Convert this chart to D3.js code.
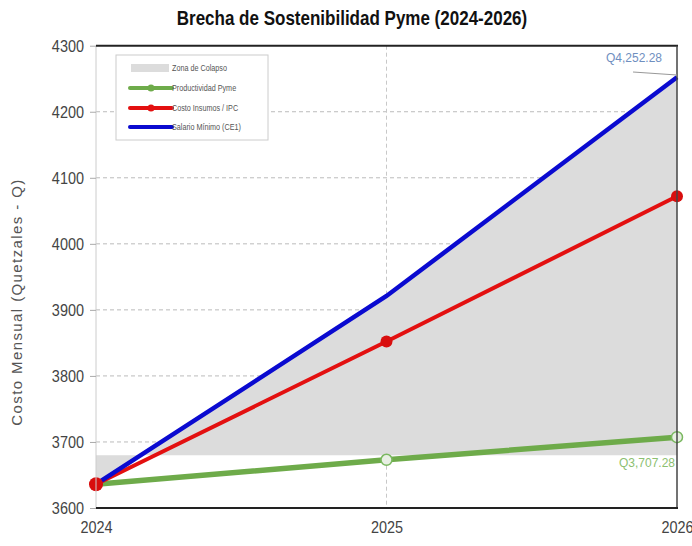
<!DOCTYPE html>
<html><head><meta charset="utf-8">
<script src="https://cdn.jsdelivr.net/npm/d3@7"></script>
<style>body{margin:0;background:#fff;}svg{display:block;}</style>
</head><body>
<svg id="c" width="692" height="546"></svg>
<script>
const years = [2024, 2025, 2026];
const salarioMinimo = [3636, 3921, 4252.28];
const costoInsumos = [3636, 3852, 4072];
const productividad = [3636, 3673, 3707.28];
const zonaColapsoBase = 3680;
const yTicks = [3600, 3700, 3800, 3900, 4000, 4100, 4200, 4300];
const legendLabels = ["Zona de Colapso", "Productividad Pyme", "Costo Insumos / IPC", "Salario Mínimo (CE1)"];
const titleText = "Brecha de Sostenibilidad Pyme (2024-2026)";
const yLabel = "Costo Mensual (Quetzales - Q)";

const svg = d3.select("#c");
const L = 96, R = 677, T = 45.7, B = 508;
const x = d3.scaleLinear().domain([2024, 2026]).range([L, R]);
const y = d3.scaleLinear().domain([3600, 4300]).range([B, T]);
const sans = "'Liberation Sans', Arial, sans-serif";

// title (condensed look via horizontal scale)
svg.append("text").attr("transform", "translate(352,25) scale(0.81,1)").attr("text-anchor", "middle")
  .attr("font-family", sans).attr("font-weight", "bold").attr("font-size", 21)
  .attr("fill", "#111").text(titleText);

// grid
svg.append("g").selectAll("line").data(yTicks.filter(d => d > 3600 && d < 4300)).join("line")
  .attr("x1", L).attr("x2", R).attr("y1", d => y(d)).attr("y2", d => y(d))
  .attr("stroke", "#bbb").attr("stroke-dasharray", "4,3").attr("stroke-width", 1);
svg.append("line").attr("x1", x(2025)).attr("x2", x(2025)).attr("y1", T).attr("y2", B)
  .attr("stroke", "#c8c8c8").attr("stroke-dasharray", "4,3");

// area
const area = d3.area().x((d, i) => x(years[i])).y0(y(zonaColapsoBase)).y1(d => y(d));
svg.append("path").datum(salarioMinimo).attr("d", area).attr("fill", "#dcdcdc");

// lines
const line = d3.line().x((d, i) => x(years[i])).y(d => y(d));
svg.append("path").datum(productividad).attr("d", line).attr("fill", "none")
  .attr("stroke", "#6eab4a").attr("stroke-width", 5.5);
svg.append("path").datum(costoInsumos).attr("d", line).attr("fill", "none")
  .attr("stroke", "#e31010").attr("stroke-width", 4);
svg.append("path").datum(salarioMinimo).attr("d", line).attr("fill", "none")
  .attr("stroke", "#0a0ad0").attr("stroke-width", 4.5);

// markers
svg.append("g").selectAll("circle").data(productividad.slice(1)).join("circle")
  .attr("cx", (d, i) => x(years[i + 1])).attr("cy", d => y(d)).attr("r", 5.5)
  .attr("fill", "#e8efe4").attr("stroke", "#7ab860").attr("stroke-width", 1.5);
svg.append("g").selectAll("circle").data(costoInsumos).join("circle")
  .attr("cx", (d, i) => x(years[i])).attr("cy", d => y(d)).attr("r", (d, i) => i === 0 ? 7 : 6)
  .attr("fill", "#d80e0e");

// frame
svg.append("line").attr("x1", L).attr("x2", L).attr("y1", T).attr("y2", B).attr("stroke", "#ccc");
svg.append("line").attr("x1", L).attr("x2", R + 1).attr("y1", T).attr("y2", T).attr("stroke", "#222").attr("stroke-width", 2);
svg.append("line").attr("x1", R).attr("x2", R).attr("y1", T).attr("y2", B).attr("stroke", "#444").attr("stroke-width", 1.5);
svg.append("line").attr("x1", L).attr("x2", R + 1).attr("y1", B).attr("y2", B).attr("stroke", "#222").attr("stroke-width", 2);

// y axis
const yAxis = d3.axisLeft(y).tickValues(yTicks).tickSize(6).tickPadding(0).tickFormat(d3.format("d"));
const gy = svg.append("g").attr("transform", `translate(${L},0)`).call(yAxis);
gy.select(".domain").remove();
gy.selectAll(".tick line").attr("stroke", "#aaa");
gy.selectAll(".tick text").attr("x", null).attr("transform", "translate(-12,0) scale(0.85,1)")
  .attr("font-family", sans).attr("font-size", 17).attr("fill", "#444");

// x axis
const xAxis = d3.axisBottom(x).tickValues(years).tickSize(0).tickPadding(13).tickFormat(d3.format("d"));
const gx = svg.append("g").attr("transform", `translate(0,${B})`).call(xAxis);
gx.select(".domain").remove();
gx.selectAll(".tick text").attr("transform", "scale(0.85,1)")
  .attr("font-family", sans).attr("font-size", 17).attr("fill", "#444");

// y label
svg.append("text").attr("transform", `translate(22,302) rotate(-90)`)
  .attr("text-anchor", "middle").attr("font-family", sans)
  .attr("font-size", 15).attr("letter-spacing", 1.4).attr("fill", "#555").text(yLabel);

// annotations
svg.append("line").attr("x1", 633).attr("y1", 72).attr("x2", R).attr("y2", 75).attr("stroke", "#999").attr("stroke-width", 1.2);
svg.append("text").attr("x", 662).attr("y", 62).attr("text-anchor", "end")
  .attr("font-family", sans).attr("font-size", 12).attr("fill", "#6f8fbf")
  .text("Q" + d3.format(",.2f")(salarioMinimo[2]));
svg.append("text").attr("x", 675).attr("y", 467).attr("text-anchor", "end")
  .attr("font-family", sans).attr("font-size", 12).attr("fill", "#8cc070")
  .text("Q" + d3.format(",.2f")(productividad[2]));

// legend
const lg = svg.append("g").attr("transform", "translate(116,55)");
lg.append("rect").attr("width", 152).attr("height", 85).attr("fill", "#fff").attr("stroke", "#ccc");
const rowsY = [13, 33, 53, 72];
const lgColors = ["#dcdcdc", "#6eab4a", "#e31010", "#0a0ad0"];
legendLabels.forEach((lab, i) => {
  const g = lg.append("g").attr("transform", `translate(0,${rowsY[i]})`);
  if (i === 0) {
    g.append("rect").attr("x", 15).attr("y", -4).attr("width", 38).attr("height", 8).attr("fill", lgColors[0]);
  } else {
    g.append("line").attr("x1", 14).attr("x2", 56).attr("stroke", lgColors[i]).attr("stroke-width", 4).attr("stroke-linecap", "round");
    if (i < 3) g.append("circle").attr("cx", 35).attr("r", 3.5).attr("fill", lgColors[i]);
  }
  g.append("text").attr("transform", "translate(56,3) scale(0.85,1)").attr("font-family", sans).attr("font-size", 8.5)
    .attr("fill", "#555").text(lab);
});
</script>
</body></html>
